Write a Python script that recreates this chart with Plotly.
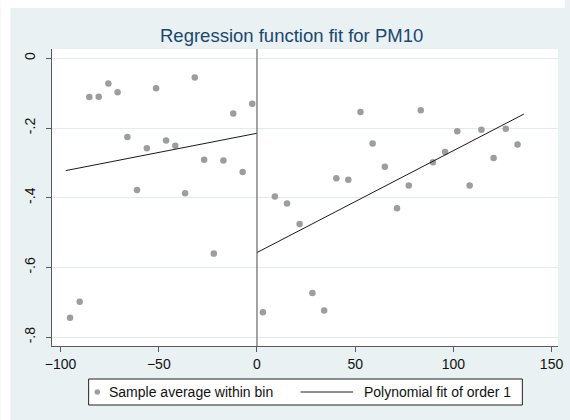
import plotly.graph_objects as go

# Bin averages left of the cutoff
left_x = [-95.2, -90.3, -85.4, -80.6, -75.7, -71.0, -66.0, -61.1, -56.1, -51.4,
          -46.3, -41.6, -36.6, -31.7, -26.9, -22.0, -17.1, -12.1, -7.3, -2.4]
left_y = [-0.744, -0.698, -0.111, -0.110, -0.072, -0.097, -0.226, -0.378, -0.258, -0.086,
          -0.236, -0.251, -0.387, -0.055, -0.291, -0.560, -0.293, -0.158, -0.326, -0.130]

# Bin averages right of the cutoff
right_x = [3.0, 9.1, 15.3, 21.7, 28.2, 34.2, 40.4, 46.5, 52.7, 58.9, 65.1,
           71.3, 77.3, 83.4, 89.6, 95.8, 102.0, 108.3, 114.3, 120.5, 126.7, 132.7]
right_y = [-0.728, -0.396, -0.416, -0.475, -0.673, -0.723, -0.344, -0.348, -0.154, -0.244, -0.311,
           -0.430, -0.365, -0.149, -0.298, -0.269, -0.209, -0.365, -0.205, -0.286, -0.202, -0.247]

# Linear fits on each side
fit_left_x = [-97.4, 0.0]
fit_left_y = [-0.322, -0.215]
fit_right_x = [0.0, 135.9]
fit_right_y = [-0.557, -0.160]

cutoff = 0.0

x_ticks = [-100, -50, 0, 50, 100, 150]
y_ticks = [0, -0.2, -0.4, -0.6, -0.8]
y_tick_text = ["0", "-.2", "-.4", "-.6", "-.8"]

title = "Regression function fit for PM10"
legend_labels = ["Sample average within bin", "Polynomial fit of order 1"]

FONT = "Arial, Liberation Sans, sans-serif"
BG = "#e9f1f3"
GRID = "#e2ebee"
AXIS = "#5a5a5a"
POINT = "#9d9d9d"

W, H = 570, 420
ML, MR, MT, MB = 52, 7, 49, 74

fig = go.Figure()

fig.add_trace(go.Scatter(x=left_x + right_x, y=left_y + right_y, mode="markers",
                         marker=dict(color=POINT, size=6.5, line=dict(width=0)),
                         showlegend=False, cliponaxis=False))
fig.add_trace(go.Scatter(x=fit_left_x, y=fit_left_y, mode="lines",
                         line=dict(color="#1a1a1a", width=1), showlegend=False))
fig.add_trace(go.Scatter(x=fit_right_x, y=fit_right_y, mode="lines",
                         line=dict(color="#1a1a1a", width=1), showlegend=False))

# Cutoff line
fig.add_shape(type="line", xref="x", yref="paper", x0=cutoff, x1=cutoff, y0=0, y1=1,
              line=dict(color="#666666", width=1.2))

# Pixel -> paper helpers
pw = W - ML - MR
ph = H - MT - MB

def px(xp):
    return (xp - ML) / pw

def py(yp):
    return 1 - (yp - MT) / ph

# White outer strips around the graph region
fig.add_shape(type="rect", xref="paper", yref="paper", x0=px(0), x1=px(10), y0=py(0), y1=py(H),
              fillcolor="white", line=dict(width=0), layer="below")
fig.add_shape(type="rect", xref="paper", yref="paper", x0=px(0), x1=px(W), y0=py(0), y1=py(8),
              fillcolor="white", line=dict(width=0), layer="below")

# Legend box
lx0, lx1, ly0, ly1 = 89, 527, 379, 405
fig.add_shape(type="rect", xref="paper", yref="paper", x0=px(lx0), x1=px(lx1), y0=py(ly0), y1=py(ly1),
              fillcolor="white", line=dict(color="#222222", width=1))
ym = (ly0 + ly1) / 2
fig.add_shape(type="circle", xref="paper", yref="paper",
              x0=px(95), x1=px(100.5), y0=py(ym - 2.75), y1=py(ym + 2.75),
              fillcolor=POINT, line=dict(width=0))
fig.add_shape(type="line", xref="paper", yref="paper", x0=px(303), x1=px(356), y0=py(ym), y1=py(ym),
              line=dict(color="#1a1a1a", width=1))
fig.add_annotation(xref="paper", yref="paper", x=px(108), y=py(ym), text=legend_labels[0],
                   showarrow=False, xanchor="left", yanchor="middle",
                   font=dict(family=FONT, size=14, color="#111111"))
fig.add_annotation(xref="paper", yref="paper", x=px(365), y=py(ym), text=legend_labels[1],
                   showarrow=False, xanchor="left", yanchor="middle",
                   font=dict(family=FONT, size=14, color="#111111"))

# Title
fig.add_annotation(xref="paper", yref="paper", x=px(294), y=py(35.5), text=title,
                   showarrow=False, xanchor="center", yanchor="middle",
                   font=dict(family=FONT, size=18.5, color="#1a476f"))

fig.update_layout(
    width=W, height=H,
    margin=dict(l=ML, r=MR, t=MT, b=MB, pad=0),
    paper_bgcolor=BG, plot_bgcolor="white",
    font=dict(family=FONT, size=14, color="#111111"),
    showlegend=False,
    xaxis=dict(range=[-104.4, 153.3], tickvals=x_ticks, ticks="outside", ticklen=5,
               tickcolor=AXIS, showgrid=False, zeroline=False, showline=True,
               linecolor=AXIS, linewidth=1.2, tickfont=dict(size=14)),
    yaxis=dict(range=[-0.825, 0.0267], tickvals=y_ticks, ticktext=y_tick_text,
               ticks="outside", ticklen=5, tickcolor=AXIS, tickangle=-90,
               ticklabelstandoff=5,
               showgrid=True, gridcolor=GRID, gridwidth=1.2, zeroline=False,
               showline=True, linecolor=AXIS, linewidth=1.2, tickfont=dict(size=14)),
)

fig.write_html("out.html")
